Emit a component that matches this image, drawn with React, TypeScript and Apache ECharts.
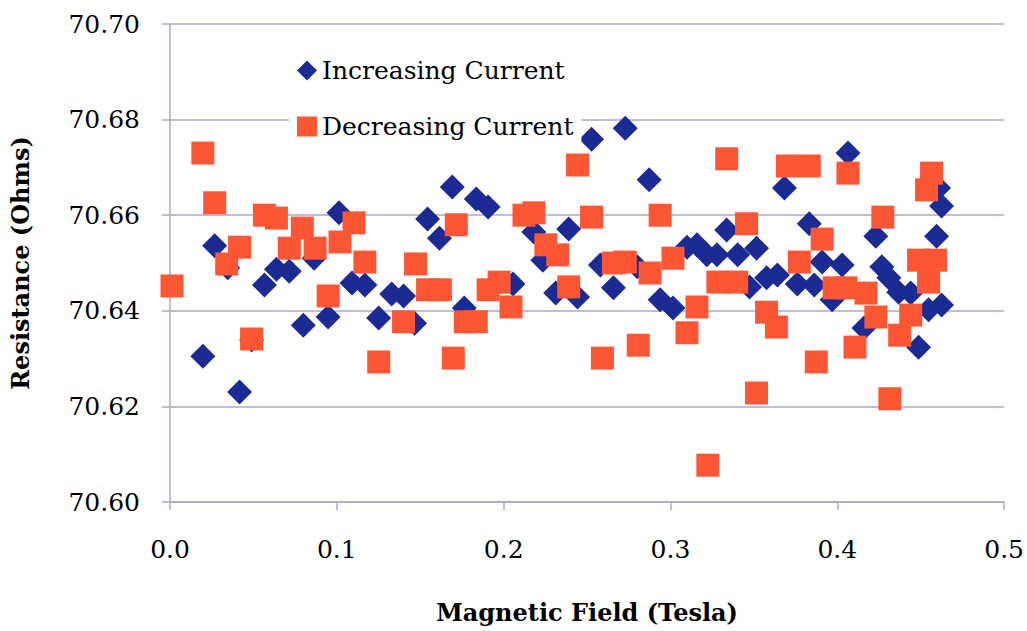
import React, { useEffect, useRef } from "react";
import * as echarts from "echarts";

// Magnetic field (Tesla) and resistance (Ohms) for each series
const increasingField = [
  0.0197, 0.0268, 0.0417, 0.0346, 0.0489, 0.0566, 0.0638, 0.0715, 0.0799, 0.0864,
  0.0948, 0.1013, 0.1091, 0.1168, 0.1251, 0.1329, 0.14, 0.1466, 0.1544, 0.1615,
  0.1692, 0.1764, 0.1836, 0.1907, 0.2056, 0.2181, 0.2235, 0.2312, 0.239, 0.2443,
  0.2527, 0.2729, 0.2872, 0.258, 0.2658, 0.2801, 0.2938, 0.3015, 0.3099, 0.3159,
  0.3218, 0.3278, 0.3337, 0.3403, 0.3516, 0.3474, 0.3576, 0.3641, 0.3683, 0.3832,
  0.376, 0.3862, 0.3909, 0.4029, 0.3969, 0.4064, 0.4231, 0.4267, 0.4309, 0.416,
  0.4368, 0.444, 0.4547, 0.4625, 0.4487, 0.4625, 0.4595, 0.4607,
];
const increasingResistance = [
  70.6305, 70.6536, 70.623, 70.649, 70.6339, 70.6454, 70.6487, 70.6483, 70.637, 70.651,
  70.6387, 70.6605, 70.6458, 70.6454, 70.6385, 70.6435, 70.6431, 70.6374, 70.6592, 70.6552,
  70.6659, 70.6406, 70.6634, 70.6617, 70.6456, 70.6565, 70.6506, 70.6437, 70.6571, 70.6429,
  70.6759, 70.6782, 70.6674, 70.6496, 70.6448, 70.6492, 70.6423, 70.6406, 70.6533, 70.6538,
  70.6517, 70.6517, 70.6569, 70.6517, 70.6531, 70.645, 70.6469, 70.6475, 70.6657, 70.6582,
  70.6456, 70.6454, 70.6502, 70.6496, 70.6423, 70.673, 70.6556, 70.6492, 70.6469, 70.6364,
  70.6439, 70.6437, 70.6402, 70.6412, 70.6324, 70.6619, 70.6556, 70.6657,
];
const decreasingField = [
  0.0012, 0.0197, 0.0268, 0.034, 0.0417, 0.0489, 0.0566, 0.0638, 0.0715, 0.0793,
  0.087, 0.0948, 0.1019, 0.1103, 0.1168, 0.1251, 0.14, 0.1472, 0.1544, 0.1621,
  0.1716, 0.1698, 0.177, 0.1836, 0.1907, 0.1973, 0.2044, 0.2122, 0.2181, 0.2253,
  0.2324, 0.239, 0.2443, 0.2527, 0.2592, 0.2658, 0.2729, 0.2807, 0.2878, 0.2938,
  0.3015, 0.3099, 0.3159, 0.3224, 0.3284, 0.3337, 0.3397, 0.3456, 0.3516, 0.3576,
  0.3635, 0.3701, 0.3832, 0.3772, 0.3909, 0.3874, 0.4064, 0.3981, 0.4052, 0.4106,
  0.4172, 0.4231, 0.4273, 0.4315, 0.4374, 0.444, 0.4487, 0.4589, 0.4547, 0.4535,
  0.4565,
];
const decreasingResistance = [
  70.6452, 70.673, 70.6626, 70.6498, 70.6533, 70.6341, 70.66, 70.6594, 70.6531, 70.6573,
  70.6531, 70.6431, 70.6544, 70.6584, 70.6502, 70.6293, 70.6377, 70.6498, 70.6444, 70.6444,
  70.658, 70.6301, 70.6377, 70.6377, 70.6444, 70.646, 70.6408, 70.66, 70.6605, 70.6538,
  70.6517, 70.645, 70.6705, 70.6596, 70.6301, 70.65, 70.6502, 70.6328, 70.6479, 70.66,
  70.651, 70.6354, 70.6408, 70.6077, 70.646, 70.6718, 70.646, 70.6582, 70.6228, 70.6397,
  70.6366, 70.6703, 70.6703, 70.6502, 70.655, 70.6293, 70.6688, 70.6448, 70.6448, 70.6324,
  70.6437, 70.6387, 70.6596, 70.6216, 70.6349, 70.6391, 70.6506, 70.6506, 70.646, 70.6653,
  70.6688,
];

const seriesNames = ["Increasing Current", "Decreasing Current"];
const xTitle = "Magnetic Field (Tesla)";
const yTitle = "Resistance (Ohms)";

const FONT = "'DejaVu Serif', serif";
const GRID_COLOR = "#a9a9d0";

export default function App() {
  const ref = useRef<HTMLDivElement>(null);

  useEffect(() => {
    if (!ref.current) return;
    const chart = echarts.init(ref.current, null, { renderer: "svg" });
    const incData = increasingField.map((x, i) => [x, increasingResistance[i]]);
    const decData = decreasingField.map((x, i) => [x, decreasingResistance[i]]);

    chart.setOption({
      animation: false,
      backgroundColor: "#ffffff",
      grid: { left: 167, right: 21, top: 24, bottom: 129, containLabel: false },
      legend: {
        orient: "vertical",
        left: 289,
        top: 50,
        padding: [8, 8, 8, 8],
        backgroundColor: "#ffffff",
        itemWidth: 20,
        itemHeight: 20,
        itemGap: 31,
        textStyle: { fontFamily: FONT, fontSize: 25, color: "#000000" },
        data: [
          { name: seriesNames[0], icon: "diamond", itemStyle: { opacity: 1 } },
          { name: seriesNames[1], icon: "rect", itemStyle: { opacity: 1 } },
        ],
      },
      xAxis: {
        type: "value",
        min: 0,
        max: 0.5,
        interval: 0.1,
        name: xTitle,
        nameLocation: "middle",
        nameGap: 98,
        nameTextStyle: { fontFamily: FONT, fontSize: 24, fontWeight: "bold", color: "#000000" },
        axisLine: { show: true, lineStyle: { color: GRID_COLOR, width: 1.5 } },
        axisTick: { show: true, inside: false, length: 8, lineStyle: { color: GRID_COLOR, width: 1.5 } },
        axisLabel: {
          margin: 35,
          fontFamily: FONT,
          fontSize: 25,
          color: "#000000",
          formatter: (v: number) => v.toFixed(1),
        },
        splitLine: { show: false },
      },
      yAxis: {
        type: "value",
        min: 70.6,
        max: 70.7,
        interval: 0.02,
        name: yTitle,
        nameLocation: "middle",
        nameGap: 138,
        nameRotate: 90,
        nameTextStyle: { fontFamily: FONT, fontSize: 24, fontWeight: "bold", color: "#000000" },
        axisLine: { show: true, lineStyle: { color: GRID_COLOR, width: 1.5 } },
        axisTick: { show: true, inside: false, length: 8, lineStyle: { color: GRID_COLOR, width: 1.5 } },
        axisLabel: {
          margin: 30,
          fontFamily: FONT,
          fontSize: 25,
          color: "#000000",
          formatter: (v: number) => v.toFixed(2),
        },
        splitLine: { show: true, lineStyle: { color: GRID_COLOR, width: 1.5 } },
      },
      series: [
        {
          name: seriesNames[0],
          type: "scatter",
          symbol: "diamond",
          symbolSize: 25,
          itemStyle: { color: "#1c2a94", opacity: 1 },
          data: incData,
        },
        {
          name: seriesNames[1],
          type: "scatter",
          symbol: "rect",
          symbolSize: 23,
          itemStyle: { color: "#fc5634", opacity: 1 },
          data: decData,
        },
      ],
    });
    return () => chart.dispose();
  }, []);

  return (
    <div
      ref={ref}
      style={{ position: "fixed", left: 0, top: 0, width: 1027, height: 631, background: "#fff" }}
    />
  );
}
